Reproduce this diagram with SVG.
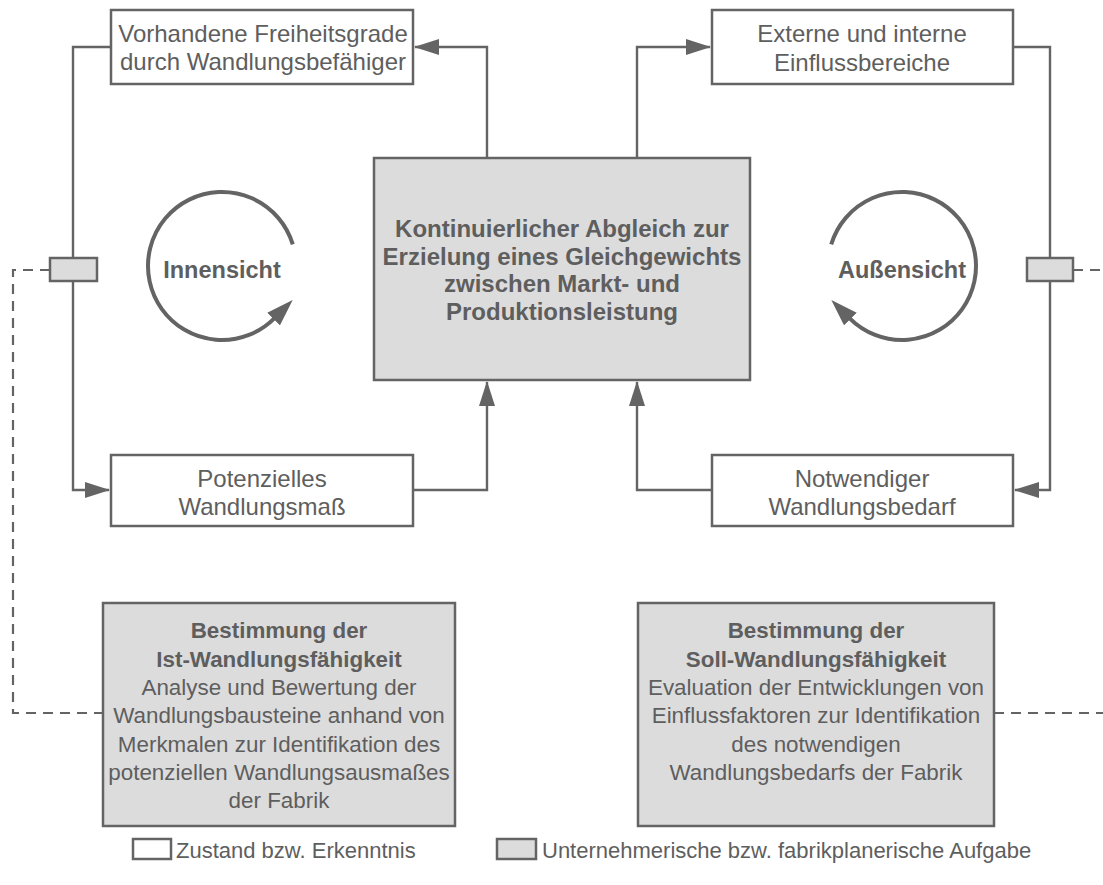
<svg xmlns="http://www.w3.org/2000/svg" width="1103" height="885" viewBox="0 0 1103 885">
  <style>
    .box { fill: #ffffff; stroke: #646464; stroke-width: 2.5; }
    .task { fill: #dcdcdc; stroke: #646464; stroke-width: 2.5; }
    .line { fill: none; stroke: #646464; stroke-width: 2.4; }
    .dash { fill: none; stroke: #646464; stroke-width: 2.2; stroke-dasharray: 10 7; }
    .loop { fill: none; stroke: #646464; stroke-width: 4; }
    text { font-family: "Liberation Sans", Arial, sans-serif; fill: #5e5e5e; text-anchor: middle; }
    .t { font-size: 24px; }
    .c { font-size: 23.5px; }
    .s { font-size: 22.4px; }
    .b { font-weight: bold; }
    .lg { font-size: 22px; text-anchor: start; }
  </style>
  <defs>
    <marker id="arrow" markerUnits="userSpaceOnUse" markerWidth="26" markerHeight="16" refX="24" refY="8" orient="auto">
      <path d="M0,0 L25,8 L0,16 z" fill="#646464"/>
    </marker>
    <marker id="loopArrow" markerUnits="userSpaceOnUse" markerWidth="28" markerHeight="18" refX="1" refY="9" orient="auto">
      <path d="M0,0 L27,9 L0,18 z" fill="#646464"/>
    </marker>
  </defs>

  <!-- connectors -->
  <g id="connectors">
    <!-- left feedback loop -->
    <path class="line" d="M111,47 H73 V490 H109" marker-end="url(#arrow)"/>
    <!-- right feedback loop -->
    <path class="line" d="M1013,47 H1050 V490 H1015" marker-end="url(#arrow)"/>
    <!-- central box to top boxes -->
    <path class="line" d="M487,158 V47 H415" marker-end="url(#arrow)"/>
    <path class="line" d="M637,158 V47 H710" marker-end="url(#arrow)"/>
    <!-- bottom boxes to central box -->
    <path class="line" d="M412,490 H487 V382" marker-end="url(#arrow)"/>
    <path class="line" d="M712,490 H637 V382" marker-end="url(#arrow)"/>
    <!-- dashed links to the task boxes -->
    <path class="dash" d="M50,270 H13 V713 H103"/>
    <path class="dash" d="M1073,270 H1103"/>
    <path class="dash" d="M994,713 H1103"/>
  </g>

  <!-- coupling elements on the loops -->
  <g id="coupling-left">
    <rect class="task" x="50" y="258" width="47" height="23" stroke-width="2"/>
  </g>
  <g id="coupling-right">
    <rect class="task" x="1027" y="258" width="46" height="23" stroke-width="2"/>
  </g>

  <!-- inner view cycle -->
  <g id="innensicht">
    <path class="loop" d="M292.8,244.4 A74,74 0 1 0 274.3,318.3" marker-end="url(#loopArrow)"/>
    <text class="c b" x="222" y="278">Innensicht</text>
  </g>

  <!-- outer view cycle -->
  <g id="aussensicht">
    <path class="loop" d="M831.2,244.4 A74,74 0 1 1 849.7,318.3" marker-end="url(#loopArrow)"/>
    <text class="c b" x="902" y="278">Außensicht</text>
  </g>

  <g id="freiheitsgrade">
    <rect class="box" x="111" y="10" width="302" height="74"/>
    <text class="t" x="263" y="42">Vorhandene Freiheitsgrade</text>
    <text class="t" x="263" y="70">durch Wandlungsbefähiger</text>
  </g>

  <g id="einflussbereiche">
    <rect class="box" x="712" y="10" width="301" height="74"/>
    <text class="t" x="862" y="42">Externe und interne</text>
    <text class="t" x="862" y="71">Einflussbereiche</text>
  </g>

  <g id="abgleich">
    <rect class="task" x="374" y="158" width="376" height="222"/>
    <text class="t b" x="562" y="237">Kontinuierlicher Abgleich zur</text>
    <text class="t b" x="562" y="265">Erzielung eines Gleichgewichts</text>
    <text class="t b" x="562" y="292">zwischen Markt- und</text>
    <text class="t b" x="562" y="320">Produktionsleistung</text>
  </g>

  <g id="wandlungsmass">
    <rect class="box" x="111" y="455" width="302" height="71"/>
    <text class="t" x="262" y="487">Potenzielles</text>
    <text class="t" x="262" y="515">Wandlungsmaß</text>
  </g>

  <g id="wandlungsbedarf">
    <rect class="box" x="712" y="455" width="301" height="71"/>
    <text class="t" x="862" y="487">Notwendiger</text>
    <text class="t" x="862" y="515">Wandlungsbedarf</text>
  </g>

  <g id="ist-wandlungsfaehigkeit">
    <rect class="task" x="103" y="603" width="352" height="223"/>
    <text class="s b" x="279" y="638">Bestimmung der</text>
    <text class="s b" x="279" y="667">Ist-Wandlungsfähigkeit</text>
    <text class="s" x="279" y="695">Analyse und Bewertung der</text>
    <text class="s" x="279" y="723">Wandlungsbausteine anhand von</text>
    <text class="s" x="279" y="752">Merkmalen zur Identifikation des</text>
    <text class="s" x="279" y="780">potenziellen Wandlungsausmaßes</text>
    <text class="s" x="279" y="808">der Fabrik</text>
  </g>

  <g id="soll-wandlungsfaehigkeit">
    <rect class="task" x="638" y="603" width="356" height="223"/>
    <text class="s b" x="816" y="638">Bestimmung der</text>
    <text class="s b" x="816" y="667">Soll-Wandlungsfähigkeit</text>
    <text class="s" x="816" y="695">Evaluation der Entwicklungen von</text>
    <text class="s" x="816" y="723">Einflussfaktoren zur Identifikation</text>
    <text class="s" x="816" y="752">des notwendigen</text>
    <text class="s" x="816" y="780">Wandlungsbedarfs der Fabrik</text>
  </g>

  <!-- legend -->
  <g id="legend">
    <rect class="box" x="133" y="839" width="38" height="20" stroke-width="2"/>
    <text class="lg" x="176" y="858">Zustand bzw. Erkenntnis</text>
    <rect class="task" x="497" y="839" width="39" height="20" stroke-width="2"/>
    <text class="lg" x="542" y="858">Unternehmerische bzw. fabrikplanerische Aufgabe</text>
  </g>
</svg>
